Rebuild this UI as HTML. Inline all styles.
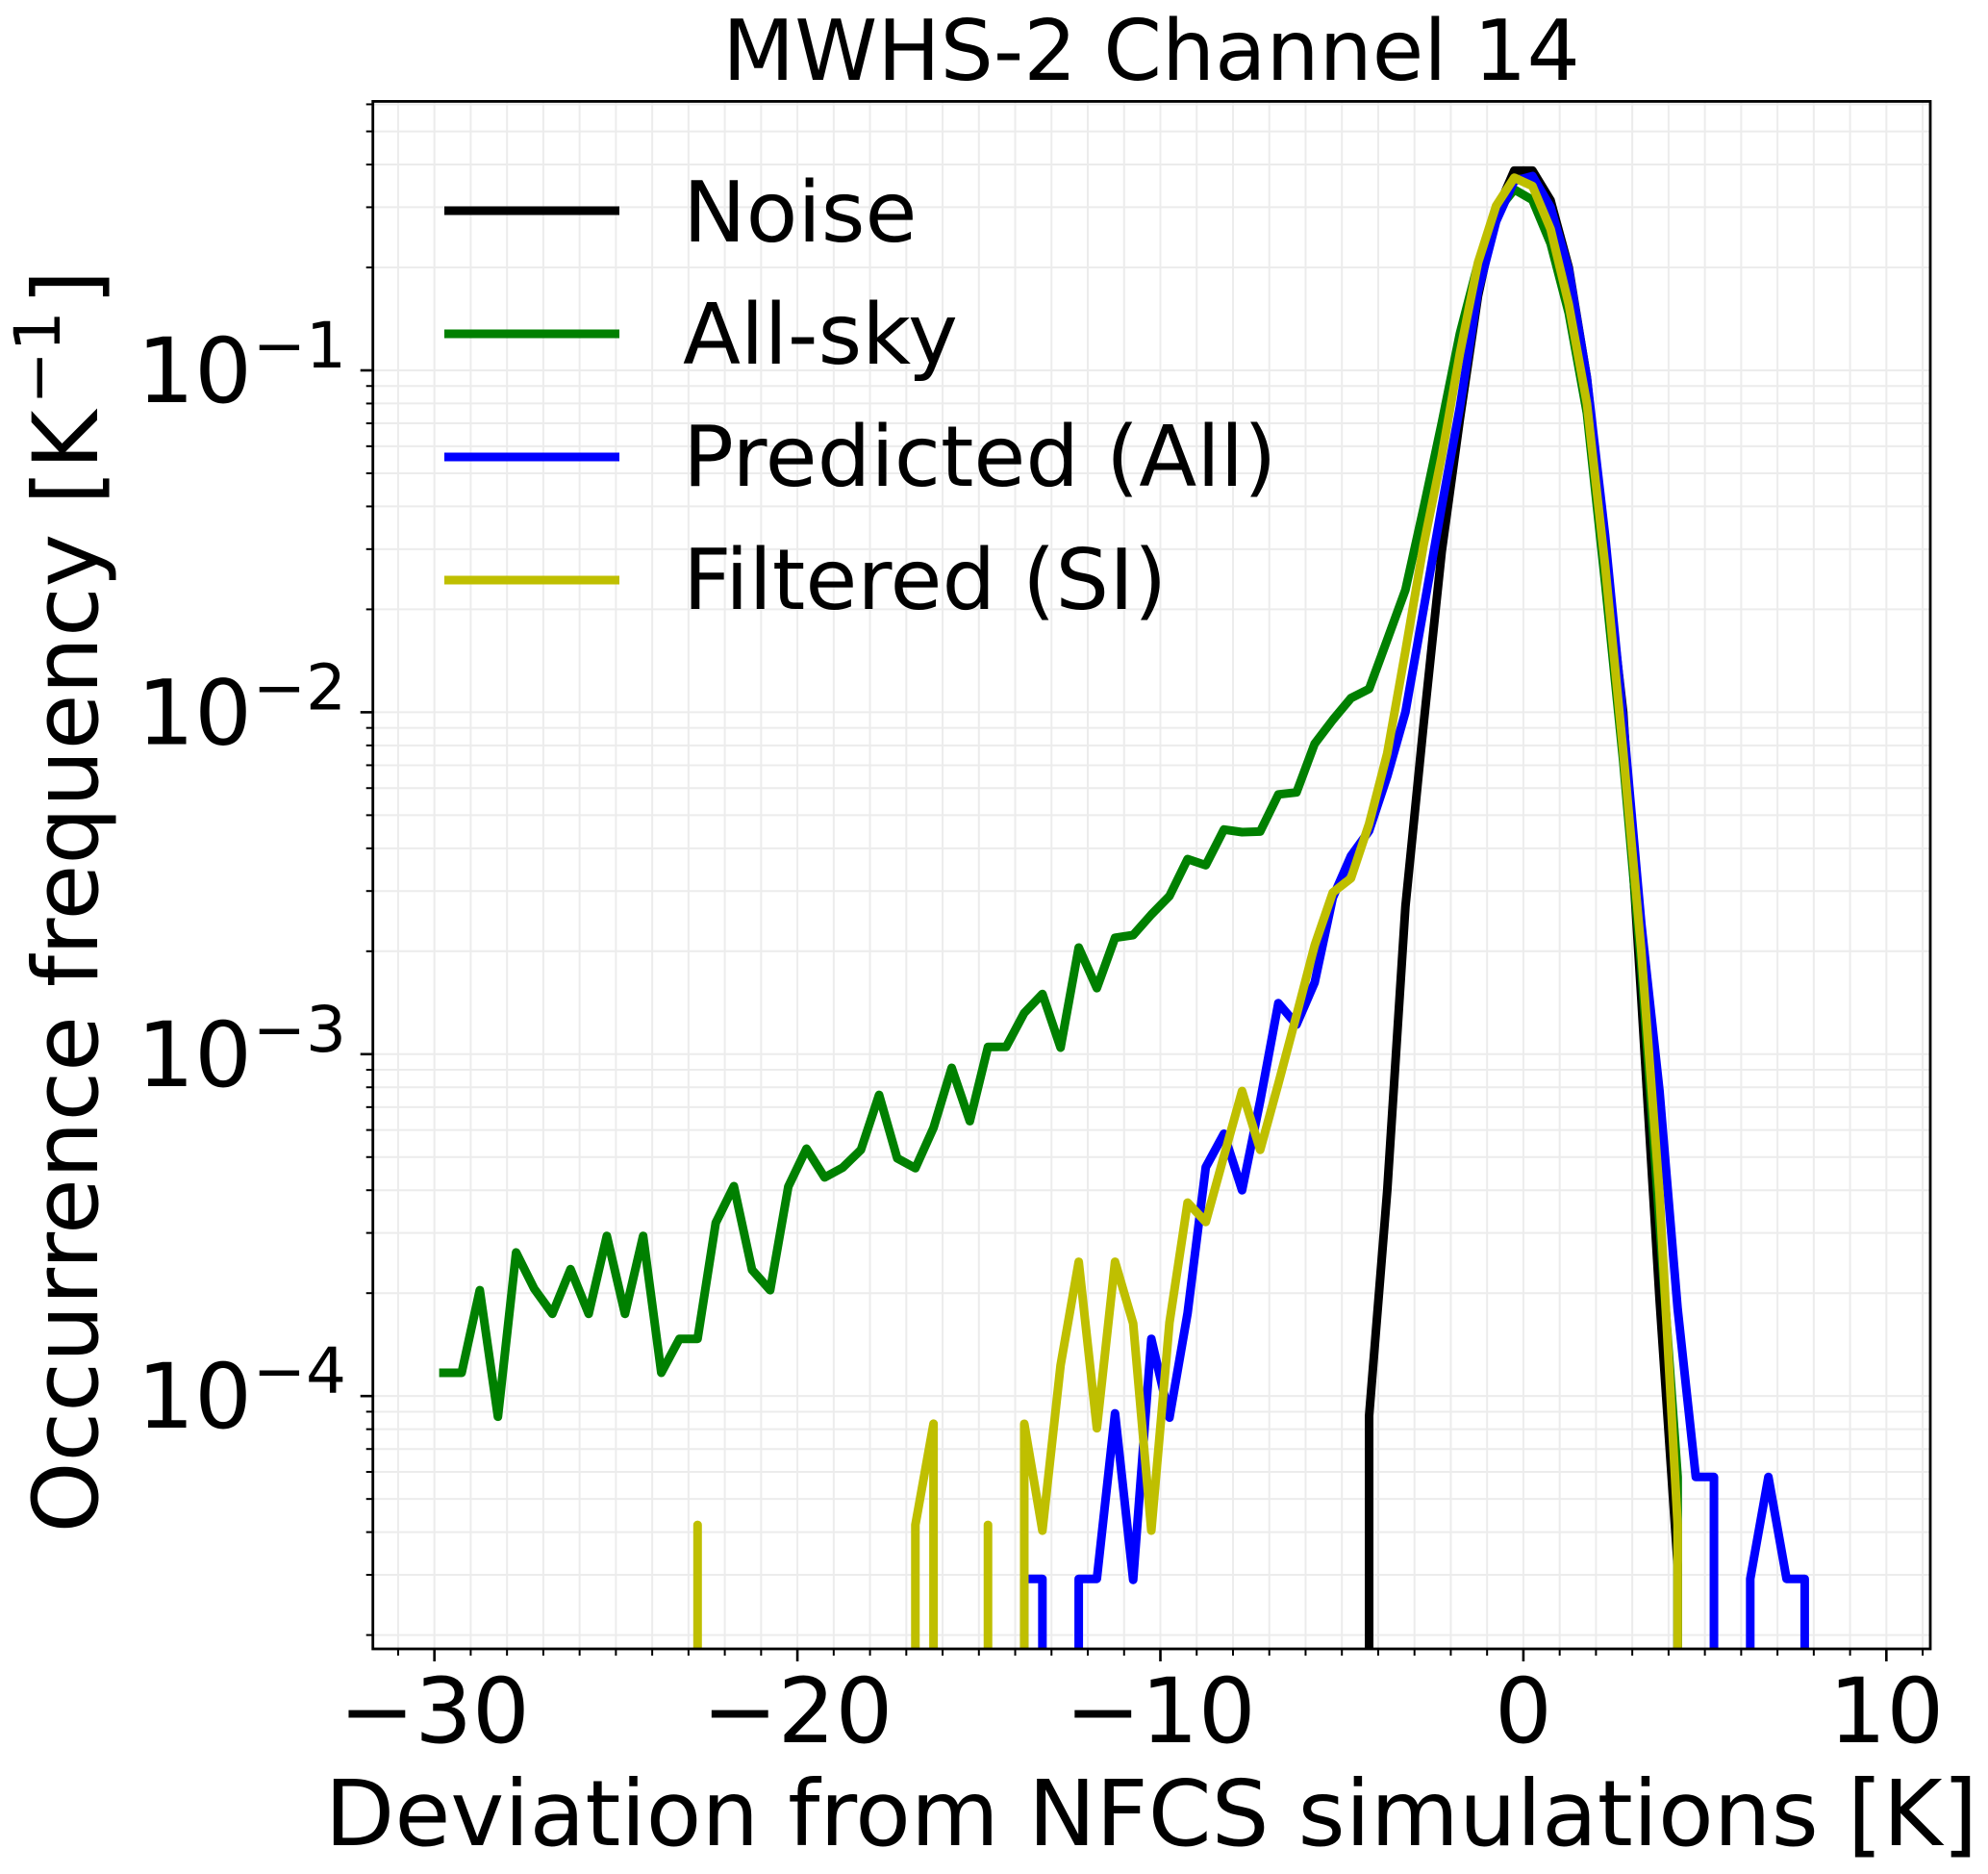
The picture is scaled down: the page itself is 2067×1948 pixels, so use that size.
<!DOCTYPE html>
<html lang="en">
<head>
<meta charset="utf-8">
<title>MWHS-2 Channel 14</title>
<style>
html,body{margin:0;padding:0;background:#fff;width:2067px;height:1948px;overflow:hidden;}
svg{display:block;overflow:hidden;}
text{font-family:"DejaVu Sans",sans-serif;fill:#000;}
</style>
</head>
<body>
<svg id="chart" xmlns="http://www.w3.org/2000/svg" width="2067" height="1948" viewBox="0 0 2067 1948">
  <defs>
    <clipPath id="plot-clip"><rect x="388" y="105.4" width="1619" height="1608.6"></rect></clipPath>
  </defs>
  <rect x="0" y="0" width="2067" height="1948" fill="#fff"></rect>
  <g id="grid"></g>
  <g id="series" clip-path="url(#plot-clip)"></g>
  <rect x="387.7" y="105.4" width="1619.3" height="1608.6" fill="none" stroke="#000" stroke-width="2.8"></rect>
  <g id="ticks"></g>
  <text x="1197" y="83" font-size="87" text-anchor="middle">MWHS-2 Channel 14</text>
  <text x="1197" y="1918" font-size="94.4" text-anchor="middle">Deviation from NFCS simulations [K]</text>
  <text transform="translate(101,937) rotate(-90)" font-size="94" text-anchor="middle">Occurrence frequency [K<tspan dx="6" dy="-39" font-size="66">−1</tspan><tspan dx="6" dy="39">]</tspan></text>
  <g>
    <g>
      <line x1="462" x2="644" y1="219" y2="219" stroke="#000" stroke-width="9"></line>
      <text x="710" y="251" font-size="87.8">Noise</text>
    </g>
    <g>
      <line x1="462" x2="644" y1="347" y2="347" stroke="#008000" stroke-width="9"></line>
      <text x="710" y="378" font-size="87.8">All-sky</text>
    </g>
    <g>
      <line x1="462" x2="644" y1="475" y2="475" stroke="#0000ff" stroke-width="9"></line>
      <text x="710" y="505" font-size="87.8">Predicted (All)</text>
    </g>
    <g>
      <line x1="462" x2="644" y1="603" y2="603" stroke="#bfbf00" stroke-width="9"></line>
      <text x="710" y="633" font-size="87.8">Filtered (SI)</text>
    </g>
  </g>
</svg>
<script>
const binCenters = [
  -29.75,-29.25,-28.75,-28.25,-27.75,-27.25,-26.75,-26.25,-25.75,-25.25,
  -24.75,-24.25,-23.75,-23.25,-22.75,-22.25,-21.75,-21.25,-20.75,-20.25,
  -19.75,-19.25,-18.75,-18.25,-17.75,-17.25,-16.75,-16.25,-15.75,-15.25,
  -14.75,-14.25,-13.75,-13.25,-12.75,-12.25,-11.75,-11.25,-10.75,-10.25,
  -9.75,-9.25,-8.75,-8.25,-7.75,-7.25,-6.75,-6.25,-5.75,-5.25,
  -4.75,-4.25,-3.75,-3.25,-2.75,-2.25,-1.75,-1.25,-0.75,-0.25,
  0.25,0.75,1.25,1.75,2.25,2.75,3.25,3.75,4.25,4.75,
  5.25,5.75,6.25,6.75,7.25,7.75,8.25
];
const noiseValues = [
  0,0,0,0,0,0,0,0,0,0,
  0,0,0,0,0,0,0,0,0,0,
  0,0,0,0,0,0,0,0,0,0,
  0,0,0,0,0,0,0,0,0,0,
  0,0,0,0,0,0,0,0,0,0,
  0,8.75e-5,4e-4,2.7e-3,9.2e-3,2.95e-2,0.072,0.165,0.29,0.384,
  0.384,0.314,0.2,0.095,2.9e-2,1e-2,1.45e-3,1.93e-4,3.2e-5,0,
  0,0,0,0,0,0,0
];
const allSkyValues = [
  1.17e-4,1.17e-4,2.04e-4,8.7e-5,2.63e-4,2.06e-4,1.74e-4,2.35e-4,1.74e-4,2.94e-4,
  1.74e-4,2.94e-4,1.17e-4,1.47e-4,1.47e-4,3.21e-4,4.11e-4,2.34e-4,2.04e-4,4.1e-4,
  5.29e-4,4.36e-4,4.66e-4,5.25e-4,7.6e-4,4.96e-4,4.64e-4,6.09e-4,9.12e-4,6.37e-4,
  1.05e-3,1.05e-3,1.32e-3,1.5e-3,1.045e-3,2.05e-3,1.56e-3,2.19e-3,2.23e-3,2.56e-3,
  2.9e-3,3.72e-3,3.57e-3,4.54e-3,4.46e-3,4.48e-3,5.75e-3,5.83e-3,8.09e-3,9.5e-3,
  1.1e-2,1.17e-2,1.63e-2,2.28e-2,3.95e-2,7e-2,0.128,0.205,0.29,0.338,
  0.315,0.235,0.147,0.075,2.4e-2,7.2e-3,1.8e-3,3.2e-4,5.8e-5,0,
  0,0,0,0,0,0,0
];
const predictedValues = [
  0,0,0,0,0,0,0,0,0,0,
  0,0,0,0,0,0,0,0,0,0,
  0,0,0,0,0,0,0,0,0,0,
  0,0,2.92e-5,2.92e-5,0,2.92e-5,2.92e-5,8.9e-5,2.9e-5,1.47e-4,
  8.65e-5,1.75e-4,4.67e-4,5.85e-4,4e-4,7.3e-4,1.41e-3,1.22e-3,1.62e-3,2.87e-3,
  3.8e-3,4.5e-3,6.5e-3,1e-2,2e-2,4e-2,0.078,0.17,0.273,0.358,
  0.37,0.3,0.197,0.095,3.3e-2,9.5e-3,2.4e-3,7.8e-4,1.8e-4,5.8e-5,
  5.8e-5,0,2.92e-5,5.8e-5,2.92e-5,2.92e-5,0
];
const filteredValues = [
  0,0,0,0,0,0,0,0,0,0,
  0,0,0,0,4.2e-5,0,0,0,0,0,
  0,0,0,0,0,0,4.2e-5,8.3e-5,0,0,
  4.2e-5,0,8.3e-5,4.04e-5,1.23e-4,2.47e-4,8.05e-5,2.47e-4,1.63e-4,4.04e-5,
  1.64e-4,3.68e-4,3.23e-4,5.03e-4,7.8e-4,5.25e-4,8.2e-4,1.3e-3,2.08e-3,2.97e-3,
  3.27e-3,4.72e-3,7.59e-3,1.51e-2,3.08e-2,5.6e-2,0.112,0.2066,0.303,0.366,
  0.346,0.259,0.156,0.08,2.7e-2,7.7e-3,2e-3,3.9e-4,4.2e-5,0,
  0,0,0,0,0,0,0
];
const xMajorTicks = [-30,-20,-10,0,10];
const xTickLabels = ["−30","−20","−10","0","10"];
const xMinorTicks = [-31,-29,-28,-27,-26,-25,-24,-23,-22,-21,-19,-18,-17,-16,-15,-14,-13,-12,-11,-9,-8,-7,-6,-5,-4,-3,-2,-1,1,2,3,4,5,6,7,8,9,11];
const yMajorTicks = [1e-1,1e-2,1e-3,1e-4];
const yTickBases = ["10","10","10","10"];
const yTickExponents = ["−1","−2","−3","−4"];
const yMinorTicks = [
  6e-1,5e-1,4e-1,3e-1,2e-1,
  9e-2,8e-2,7e-2,6e-2,5e-2,4e-2,3e-2,2e-2,
  9e-3,8e-3,7e-3,6e-3,5e-3,4e-3,3e-3,2e-3,
  9e-4,8e-4,7e-4,6e-4,5e-4,4e-4,3e-4,2e-4,
  9e-5,8e-5,7e-5,6e-5,5e-5,4e-5,3e-5,2e-5
];

const NS = "http://www.w3.org/2000/svg";
const plot = {left:387.7,right:2007,top:105.4,bottom:1714};
const xDomain = [-31.695,11.21];
const yLogDomain = [-4.7395,-0.2133];
function xScale(v){
  return plot.left+(v-xDomain[0])*(plot.right-plot.left)/(xDomain[1]-xDomain[0]);
}
function yScale(v){
  return plot.bottom-(Math.log10(v)-yLogDomain[0])*(plot.bottom-plot.top)/(yLogDomain[1]-yLogDomain[0]);
}
function makeLine(parent,x1,y1,x2,y2,stroke,width){
  const el=document.createElementNS(NS,"line");
  el.setAttribute("x1",x1);
  el.setAttribute("y1",y1);
  el.setAttribute("x2",x2);
  el.setAttribute("y2",y2);
  el.setAttribute("stroke",stroke);
  el.setAttribute("stroke-width",width);
  parent.appendChild(el);
  return el;
}
function makeText(parent,x,y,size,anchor,content){
  const el=document.createElementNS(NS,"text");
  el.setAttribute("x",x);
  el.setAttribute("y",y);
  el.setAttribute("font-size",size);
  el.setAttribute("text-anchor",anchor);
  el.textContent=content;
  parent.appendChild(el);
  return el;
}
const gridGroup=document.getElementById("grid");
const tickGroup=document.getElementById("ticks");
const seriesGroup=document.getElementById("series");
const gridColor="#ececec";
const gridWidth=2;

xMajorTicks.concat(xMinorTicks).forEach(function(v){
  const x=xScale(v);
  const el=makeLine(gridGroup,x,plot.top,x,plot.bottom,gridColor,gridWidth);
  
  
});
yMajorTicks.concat(yMinorTicks).forEach(function(v){
  const y=yScale(v);
  const el=makeLine(gridGroup,plot.left,y,plot.right,y,gridColor,gridWidth);
  
  
});
xMajorTicks.forEach(function(v,i){
  const x=xScale(v);
  const el=makeLine(tickGroup,x,plot.bottom,x,plot.bottom+13,"#000",2.6);
  
  
  const label=makeText(tickGroup,x,1811,94,"middle",xTickLabels[i]);
  
  
});
xMinorTicks.forEach(function(v){
  const x=xScale(v);
  const el=makeLine(tickGroup,x,plot.bottom,x,plot.bottom+7,"#000",2);
  
  
});
yMajorTicks.forEach(function(v,i){
  const y=yScale(v);
  const el=makeLine(tickGroup,plot.left-13,y,plot.left,y,"#000",2.6);
  
  
  const label=makeText(tickGroup,262,y+33,94,"end",yTickBases[i]);
  
  
  const exp=makeText(tickGroup,360,y-3,66,"end",yTickExponents[i]);
  
  
});
yMinorTicks.forEach(function(v){
  const y=yScale(v);
  const el=makeLine(tickGroup,plot.left-7,y,plot.left,y,"#000",2);
  
  
});

/* Zero counts have no position on a log axis: the line drops straight down
   from the neighbouring positive bin and leaves through the bottom spine. */
function drawSeries(values,color){
  const el=document.createElementNS(NS,"path");
  const floorY=plot.bottom+20;
  let d="";
  let pen=false;
  values.forEach(function(v,i){
    if(v>0){
      const x=xScale(binCenters[i]).toFixed(2);
      const y=yScale(v).toFixed(2);
      if(pen){
        d+="L"+x+" "+y+" ";
      }else if(i>0){
        d+="M"+x+" "+floorY+" L"+x+" "+y+" ";
      }else{
        d+="M"+x+" "+y+" ";
      }
      pen=true;
    }else if(pen){
      d+="L"+xScale(binCenters[i-1]).toFixed(2)+" "+floorY+" ";
      pen=false;
    }
  });
  el.setAttribute("d",d.trim());
  el.setAttribute("fill","none");
  el.setAttribute("stroke",color);
  el.setAttribute("stroke-width",9);
  el.setAttribute("stroke-linejoin","round");
  el.setAttribute("stroke-linecap","square");
  seriesGroup.appendChild(el);
  return el;
}
const noiseLine=drawSeries(noiseValues,"#000000");


const allSkyLine=drawSeries(allSkyValues,"#008000");


const predictedLine=drawSeries(predictedValues,"#0000ff");


const filteredLine=drawSeries(filteredValues,"#bfbf00");


</script>
</body>
</html>
